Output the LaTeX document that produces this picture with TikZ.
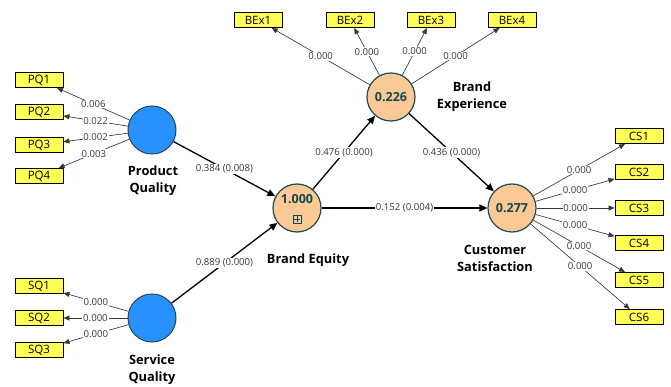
\documentclass[tikz,border=0pt]{standalone}
\usepackage{fontspec}
\setmainfont{Open Sans}
\usetikzlibrary{arrows.meta}
\definecolor{lvblue}{RGB}{40,145,255}
\definecolor{lvorange}{RGB}{251,201,150}
\definecolor{lvborder}{RGB}{30,75,80}
\definecolor{mvyellow}{RGB}{255,255,85}
\definecolor{numgray}{RGB}{55,55,55}
\definecolor{valteal}{RGB}{25,70,75}
\tikzset{
  lvb/.style={circle, draw=lvborder, line width=1pt, fill=lvblue, minimum size=48pt, inner sep=0pt},
  lvo/.style={circle, draw=lvborder, line width=1.2pt, fill=lvorange, minimum size=48pt, inner sep=0pt,
    font=\bfseries\fontsize{12.5}{12.5}\selectfont, text=valteal},
  lvval/.style={inner sep=0pt, font=\bfseries\fontsize{12.5}{12.5}\selectfont, text=valteal},
  mv/.style={rectangle, draw=black, line width=0.9pt, fill=mvyellow, minimum width=48pt,
    minimum height=15pt, inner sep=0pt, font=\fontsize{11.5}{11.5}\selectfont},
  lvname/.style={inner sep=0pt, font=\bfseries\fontsize{12.8}{17}\selectfont, align=center},
  load/.style={draw=numgray, line width=0.65pt, -{Triangle[length=6pt,width=5pt]}},
  lab/.style={fill=white, inner sep=0.8pt, font=\fontsize{9.6}{10}\selectfont, text=numgray},
  structpath/.style={draw=black, line width=1.3pt, -{Triangle[length=8pt,width=7pt]}},
  plab/.style={fill=white, inner sep=1.2pt, font=\fontsize{9.6}{10}\selectfont, text=numgray},
  plusbox/.style={draw=valteal, line width=0.6pt, minimum size=8pt, inner sep=0pt}
}
\begin{document}
\begin{tikzpicture}[x=1pt, y=-1pt]
\useasboundingbox[fill=white] (0,0) rectangle (671,387);

% latent variables
\node[lvb] (PQ) at (152,130) {};
\node[lvb] (SQ) at (152,318) {};
\node[lvo] (BE) at (297,208) {};
\node[lvo] (BEX) at (391,97) {0.226};
\node[lvo] (CS) at (512,208) {0.277};
\node[lvval] (BEval) at (297,199) {1.000};
\node[plusbox] (BEplus) at (297,219) {};
\draw[valteal, line width=0.6pt] ([yshift=-1.3pt]BEplus.north) -- ([yshift=1.3pt]BEplus.south);
\draw[valteal, line width=0.6pt] ([xshift=1.3pt]BEplus.west) -- ([xshift=-1.3pt]BEplus.east);

% latent names
\node[lvname] (PQname) at (153,181) {Product\\Quality};
\node[lvname] (SQname) at (152,370) {Service\\Quality};
\node[lvname] (BEname) at (308,260) {Brand Equity};
\node[lvname] (BEXname) at (472,97) {Brand\\Experience};
\node[lvname] (CSname) at (495,258) {Customer\\Satisfaction};

% indicators
\node[mv] (PQ1) at (39,80) {PQ1};
\node[mv] (PQ2) at (39,112) {PQ2};
\node[mv] (PQ3) at (39,145) {PQ3};
\node[mv] (PQ4) at (39,176) {PQ4};
\node[mv] (SQ1) at (39,286) {SQ1};
\node[mv] (SQ2) at (39,318) {SQ2};
\node[mv] (SQ3) at (39,350) {SQ3};
\node[mv] (BEx1) at (258,20) {BEx1};
\node[mv] (BEx2) at (350,20) {BEx2};
\node[mv] (BEx3) at (431,20) {BEx3};
\node[mv] (BEx4) at (512,20) {BEx4};
\node[mv] (CS1) at (639,136) {CS1};
\node[mv] (CS2) at (639,172) {CS2};
\node[mv] (CS3) at (639,208) {CS3};
\node[mv] (CS4) at (639,243) {CS4};
\node[mv] (CS5) at (639,280) {CS5};
\node[mv] (CS6) at (639,317) {CS6};

% outer loadings
\draw[load] (PQ) -- node[lab] {0.006} (PQ1);
\draw[load] (PQ) -- node[lab] {0.022} (PQ2);
\draw[load] (PQ) -- node[lab] {0.002} (PQ3);
\draw[load] (PQ) -- node[lab] {0.003} (PQ4);
\draw[load] (SQ) -- node[lab] {0.000} (SQ1);
\draw[load] (SQ) -- node[lab] {0.000} (SQ2);
\draw[load] (SQ) -- node[lab] {0.000} (SQ3);
\draw[load] (BEX) -- node[lab] {0.000} (BEx1);
\draw[load] (BEX) -- node[lab] {0.000} (BEx2);
\draw[load] (BEX) -- node[lab] {0.000} (BEx3);
\draw[load] (BEX) -- node[lab] {0.000} (BEx4);
\draw[load] (CS) -- node[lab] {0.000} (CS1);
\draw[load] (CS) -- node[lab] {0.000} (CS2);
\draw[load] (CS) -- node[lab] {0.000} (CS3);
\draw[load] (CS) -- node[lab] {0.000} (CS4);
\draw[load] (CS) -- node[lab] {0.000} (CS5);
\draw[load] (CS) -- node[lab] {0.000} (CS6);

% structural paths
\draw[structpath] (PQ) -- node[plab] {0.384 (0.008)} (BE);
\draw[structpath] (SQ) -- node[plab] {0.889 (0.000)} (BE);
\draw[structpath] (BE) -- node[plab] {0.476 (0.000)} (BEX);
\draw[structpath] (BEX) -- node[plab] {0.436 (0.000)} (CS);
\draw[structpath] (BE) -- node[plab] {0.152 (0.004)} (CS);
\end{tikzpicture}
\end{document}
